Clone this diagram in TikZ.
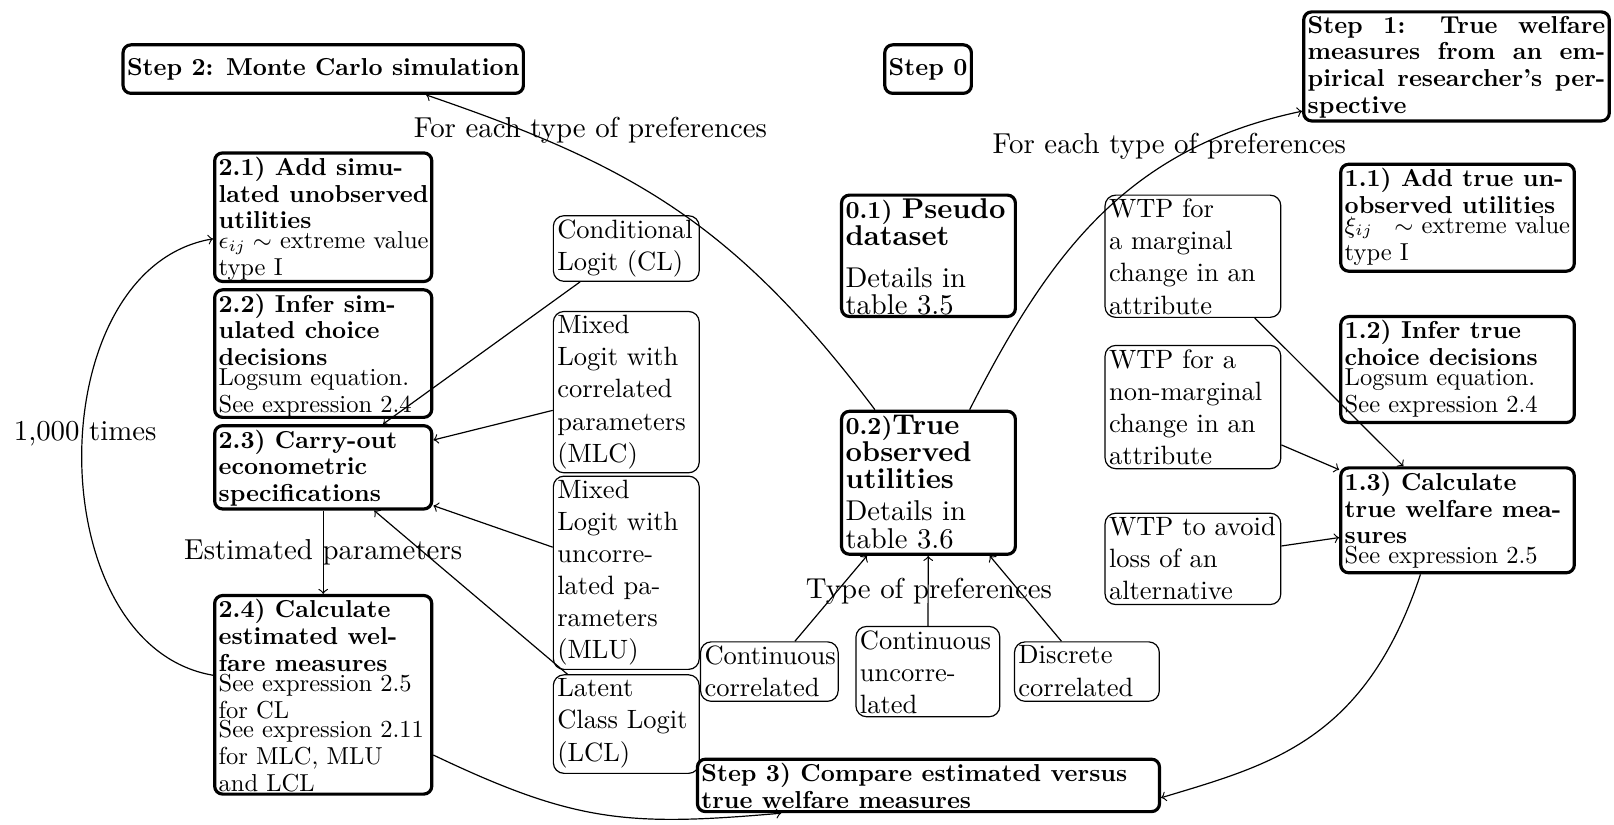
\documentclass[tikz,border=0pt]{standalone}
\usepackage{fontspec}
\setmainfont{lmroman10-regular.otf}[BoldFont=lmroman10-bold.otf, ItalicFont=lmroman10-italic.otf, BoldItalicFont=lmroman10-bolditalic.otf]
\usetikzlibrary{calc}
\newlength\myu \setlength\myu{0.38842pt}
\newcommand\hdf{\fontsize{9.25}{10.1}\selectfont\bfseries}
\newcommand\bdf{\fontsize{9.25}{10.1}\selectfont}
\newcommand\mtf{\fontsize{10}{12.1}\selectfont}
\newcommand\lbf{\fontsize{10.88}{13}\selectfont}
\newcommand\bgf{\fontsize{10.8}{10.2}\selectfont}
\newcommand\rr{\raggedright\rightskip=-8pt plus 1fil\relax}
\newcommand\tbox[3]{\parbox[c][\dimexpr#2\myu-4.2pt\relax][t]{\dimexpr#1\myu-4.2pt\relax}{\rr#3}}
\newcommand\jbox[3]{\parbox[c][\dimexpr#2\myu-4.2pt\relax][t]{\dimexpr#1\myu-4.2pt\relax}{#3}}
\newcommand\nbox[3]{\parbox[c][\dimexpr#2\myu-3.5pt\relax][t]{\dimexpr#1\myu-3.5pt\relax}{\rr\mtf#3}}
\newcommand\gap{\par\vspace{-2.6pt}}
\tikzset{
  thk/.style={draw, line width=1.2pt, rounded corners=3pt, inner sep=1.5pt, anchor=north west},
  thn/.style={draw, line width=0.45pt, rounded corners=4pt, inner sep=1.5pt, anchor=north west},
  lbl/.style={font=\lbf, inner sep=0pt, anchor=base},
  con/.style={->, line width=0.45pt}
}
\begin{document}
\begin{tikzpicture}[x=0.38842pt,y=0.38842pt]
\useasboundingbox (0,0) rectangle (1568,-801);
% top step boxes
\node[thk,minimum height=18.3pt] (s2) at (118,-42) {\hdf Step 2: Monte Carlo simulation};
\node[thk,minimum height=18.3pt] (s0) at (858,-42) {\hdf Step 0};
\node[thk] (s1) at (1265,-10) {\jbox{300}{109}{\hdf Step 1: True welfare\linebreak measures from an em-\linebreak pirical researcher's per-\linebreak spective\par}};
% step 2 boxes
\node[thk] (b21) at (207,-147) {\tbox{214}{128}{{\hdf 2.1) Add simu-\\lated unobserved\\utilities\par}\gap{\bdf $\epsilon_{ij}\sim$ extreme value\\type I\par}}};
\node[thk] (b22) at (207,-280) {\tbox{214}{127}{{\hdf 2.2) Infer sim-\\ulated choice\\decisions\par}\gap{\bdf Logsum equation.\\See expression 2.4\par}}};
\node[thk] (b23) at (207,-412) {\tbox{214}{84}{{\hdf 2.3) Carry-out\\econometric\\specifications\par}}};
\node[thk] (b24) at (207,-577) {\tbox{214}{196}{{\hdf 2.4) Calculate\\estimated wel-\\fare measures\par}\gap{\bdf See expression 2.5\\for CL\par}\gap{\bdf See expression 2.11\\for MLC, MLU\\and LCL\par}}};
% models
\node[thn] (cl) at (537,-209) {\nbox{143}{65}{Conditional\\Logit (CL)\par}};
\node[thn] (mlc) at (537,-302) {\nbox{143}{158}{Mixed\\Logit with\\correlated\\parameters\\(MLC)\par}};
\node[thn] (mlu) at (537,-462) {\nbox{143}{189}{Mixed\\Logit with\\uncorre-\\lated pa-\\rameters\\(MLU)\par}};
\node[thn] (lcl) at (537,-655) {\nbox{143}{97}{Latent\\Class Logit\\(LCL)\par}};
% step 0
\node[thk] (b01) at (816,-188) {\tbox{172}{121}{{\hdf 0.1) \bgf Pseudo\\dataset\par}\vspace{5.3pt}{\fontsize{10.8}{10.3}\selectfont Details in\\table 3.5\par}}};
\node[thk] (b02) at (816,-398) {\tbox{172}{142}{{\hdf 0.2)\bgf True\\observed\\utilities\par}\vspace{1.9pt}{\fontsize{10.8}{10.3}\selectfont Details in\\table 3.6\par}}};
\node[thn] (pcc) at (680,-623) {\nbox{135}{59}{Continuous\\correlated\par}};
\node[thn] (pcu) at (831,-608) {\nbox{141}{89}{Continuous\\uncorre-\\lated\par}};
\node[thn] (pdc) at (985,-623) {\nbox{142}{59}{Discrete\\correlated\par}};
% WTP
\node[thn] (w1) at (1073,-189) {\nbox{172}{120}{WTP for\\a marginal\\change in an\\attribute\par}};
\node[thn] (w2) at (1073,-335) {\nbox{172}{121}{WTP for a\\non-marginal\\change in an\\attribute\par}};
\node[thn] (w3) at (1073,-498) {\nbox{172}{90}{WTP to avoid\\loss of an\\alternative\par}};
% step 1 boxes
\node[thk] (b11) at (1301,-158) {\tbox{230}{107}{{\hdf 1.1) Add true un-\\observed utilities\par}\gap{\bdf $\xi_{ij}\hspace{5.5pt}\sim$ extreme value\\type I\par}}};
\node[thk] (b12) at (1301,-306) {\tbox{230}{106}{{\hdf 1.2) Infer true\\choice decisions\par}\gap{\bdf Logsum equation.\\See expression 2.4\par}}};
\node[thk] (b13) at (1301,-453) {\tbox{230}{105}{{\hdf 1.3) Calculate\\true welfare mea-\\sures\par}\gap{\bdf See expression 2.5\par}}};
% step 3
\node[thk] (s3) at (676,-736) {\tbox{452}{54}{{\hdf Step 3) Compare estimated versus\\true welfare measures\par}}};
% labels
\node[lbl] (lL) at (573.6,-133.4) {For each type of preferences};
\node[lbl] (lR) at (1136,-149.6) {For each type of preferences};
\node[lbl] (lT) at (902.4,-581.3) {Type of preferences};
\node[lbl] (lE) at (314,-543.4) {Estimated parameters};
\node[lbl] (l1) at (82.8,-428.4) {1,000 times};
% connectors
\draw[con] (cl) -- (b23);
\draw[con] (mlc) -- (b23);
\draw[con] (mlu) -- (b23);
\draw[con] (lcl) -- (b23);
\draw[con] (b23) -- (b24);
\draw[con] (pcc) -- (b02);
\draw[con] (pcu) -- (b02);
\draw[con] (pdc) -- (b02);
\draw[con] (w1) -- (b13);
\draw[con] (w2) -- (b13);
\draw[con] (w3) -- (b13);
\draw[con] ($(b02.north)+(-52,0)$) .. controls (711.6,-214.3) and (610.7,-159.7) .. ($(s2.south west)+(296,0)$);
\draw[con] ($(b02.north)+(40,0)$) .. controls (1019.2,-246.5) and (1094.7,-143.8) .. ($(s1.south west)+(0,11)$);
\draw[con] ($(b24.west)+(0,19)$) .. controls ($(b24.west)+(-170,48)$) and ($(b21.west)+(-170,-50)$) .. ($(b21.west)+(0,-21)$);
\draw[con] ($(b24.east)+(0,-58.5)$) .. controls (558.8,-799.2) and (609.6,-803) .. ($(s3.south west)+(83,0)$);
\draw[con] ($(b13.south west)+(79,0)$) .. controls (1326.3,-719.8) and (1235.2,-742.7) .. ($(s3.east)+(0,-12)$);
\end{tikzpicture}
\end{document}
